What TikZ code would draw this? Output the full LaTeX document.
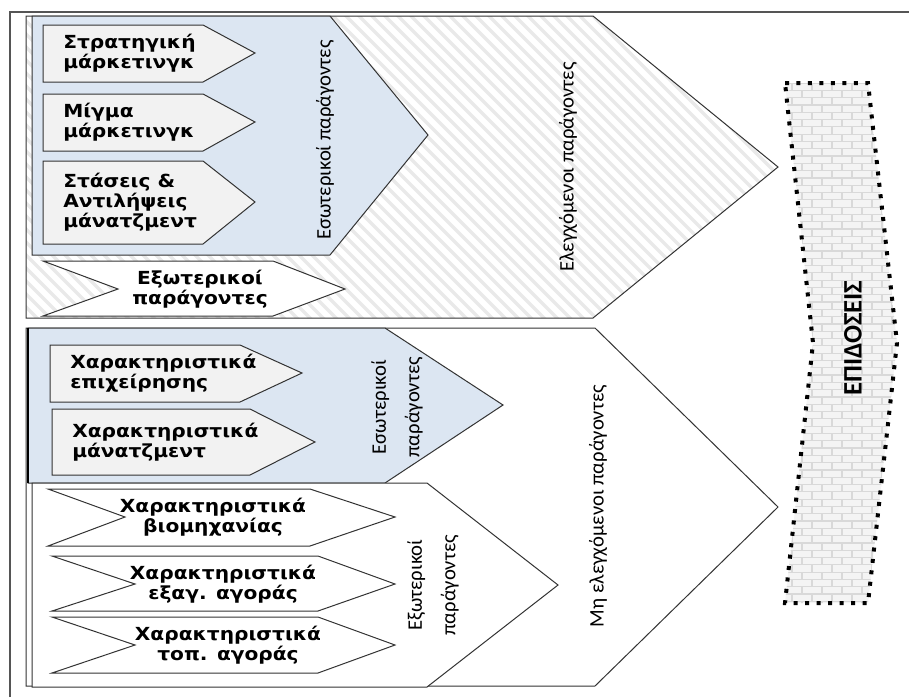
\documentclass[tikz,border=0pt]{standalone}
\usepackage{fontspec}
\setmainfont{DejaVu Sans}[FakeStretch=1.12]
\newfontfamily\calfont{Carlito}
\definecolor{linec}{HTML}{333333}
\definecolor{bluef}{HTML}{DCE6F2}
\definecolor{greyf}{HTML}{F2F2F2}
\definecolor{hatchc}{HTML}{E9E9E9}
\definecolor{brickf}{HTML}{F4F4F4}
\definecolor{mortar}{HTML}{D9D9D9}
\definecolor{framec}{HTML}{555555}
\begin{document}
\begin{tikzpicture}[x=0.75pt,y=-0.75pt,
  shp/.style={draw=linec, line width=0.75pt, line join=miter},
  boldlbl/.style={font=\bfseries\fontsize{13.5}{15}\selectfont, text=black, align=left, inner sep=0pt},
  boldctr/.style={boldlbl, align=center},
  rotlbl/.style={font=\calfont\fontsize{15.5}{25}\selectfont, text=black, rotate=90, align=center, inner sep=0pt},
  hatch/.style={draw=hatchc, line width=2.4pt},
  brick/.style={draw=mortar, line width=0.9pt},
  dotborder/.style={draw=black, line width=3pt, dash pattern=on 3pt off 5.6pt}
]
\useasboundingbox (0,0) rectangle (909,697);
\fill[white] (0,0) rectangle (909,697);

% outer frame
\draw[framec, line width=1.1pt] (10,697) -- (10,12) -- (909,12);

% ===== upper main chevron (controlled factors)
\fill[white] (26,16) -- (593,16) -- (778,167) -- (593,318) -- (26,318) -- cycle;
\begin{scope}
  \clip (26,16) -- (593,16) -- (778,167) -- (593,318) -- (26,318) -- cycle;
  \foreach \c in {-320,-307,...,800} \draw[hatch] (\c,0) -- ++(340,340);
\end{scope}
\draw[shp] (26,16) -- (593,16) -- (778,167) -- (593,318) -- (26,318) -- cycle;

% upper blue chevron
\draw[shp, fill=bluef] (32,16) -- (330,16) -- (428,135) -- (330,255) -- (32,255) -- cycle;
\draw[shp, fill=greyf] (43,25) -- (203,25) -- (255,53) -- (203,82) -- (43,82) -- cycle;
\draw[shp, fill=greyf] (43,94) -- (203,94) -- (255,122) -- (203,151) -- (43,151) -- cycle;
\draw[shp, fill=greyf] (43,161) -- (203,161) -- (255,202) -- (203,244) -- (43,244) -- cycle;
% upper external chevron
\draw[shp, fill=white] (43,261) -- (273,261) -- (345,289) -- (273,316) -- (43,316) -- (118,289) -- cycle;

\node[boldlbl, anchor=west] (t1) at (63,53) {Στρατηγική\\μάρκετινγκ};
\node[boldlbl, anchor=west] (t2) at (63,122) {Μίγμα\\μάρκετινγκ};
\node[boldlbl, anchor=west] (t3) at (63,202) {Στάσεις \&\\Αντιλήψεις\\μάνατζμεντ};
\node[boldctr] (t4) at (200,289) {Εξωτερικοί\\παράγοντες};
\node[rotlbl] (ub) at (325,140) {Εσωτερικοί παράγοντες};
\node[rotlbl] (um) at (568,167) {Ελεγχόμενοι παράγοντες};

% ===== lower main chevron (uncontrolled factors)
\draw[shp, fill=white] (26,328) -- (595,328) -- (778,507) -- (595,686) -- (26,686) -- cycle;
% lower blue chevron
\draw[shp, fill=bluef] (28,328) -- (385,328) -- (503,405) -- (385,483) -- (28,483) -- cycle;
\draw[black, line width=1.6pt] (28,328) -- (28,483);
\draw[shp, fill=greyf] (50,345) -- (240,345) -- (302,373) -- (240,402) -- (50,402) -- cycle;
\draw[shp, fill=greyf] (52,409) -- (250,409) -- (315,442) -- (250,475) -- (52,475) -- cycle;
% lower external chevron
\draw[shp, fill=white] (32,483) -- (427,483) -- (558,585) -- (427,687) -- (32,687) -- cycle;
\draw[shp, fill=white] (48,489) -- (310,489) -- (395,517) -- (310,546) -- (48,546) -- (125,517) -- cycle;
\draw[shp, fill=white] (52,556) -- (318,556) -- (395,584) -- (318,611) -- (52,611) -- (135,584) -- cycle;
\draw[shp, fill=white] (52,617) -- (318,617) -- (395,645) -- (318,673) -- (52,673) -- (135,645) -- cycle;

\node[boldlbl, anchor=west] (c1) at (70,373) {Χαρακτηριστικά\\επιχείρησης};
\node[boldlbl, anchor=west] (c2) at (72,442) {Χαρακτηριστικά\\μάνατζμεντ};
\node[boldctr] (e1) at (213,517) {Χαρακτηριστικά\\βιομηχανίας};
\node[boldctr] (e2) at (223,584) {Χαρακτηριστικά\\εξαγ. αγοράς};
\node[boldctr] (e3) at (228,645) {Χαρακτηριστικά\\τοπ. αγοράς};
\node[rotlbl] (lb) at (397,407) {Εσωτερικοί\\παράγοντες};
\node[rotlbl] (le) at (433,585) {Εξωτερικοί\\παράγοντες};
\node[rotlbl] (lm) at (598,506) {Μη ελεγχόμενοι παράγοντες};

% ===== performance band
\begin{scope}
  \clip (785,83) -- (868,83) -- (897,343) -- (868,603) -- (785,603) -- (813,343) -- cycle;
  \fill[brickf] (770,80) rectangle (905,610);
  \foreach \i in {0,...,72} {
    \pgfmathsetmacro{\yy}{83+\i*7.3}
    \pgfmathsetmacro{\yb}{\yy+7.3}
    \pgfmathsetmacro{\off}{mod(\i,2)*10}
    \draw[brick] (770,\yy) -- (905,\yy);
    \foreach \k in {0,...,7} {
      \pgfmathsetmacro{\xx}{772+\k*20+\off}
      \draw[brick] (\xx,\yy) -- (\xx,\yb);
    }
  }
\end{scope}
\draw[dotborder] (785,83) -- (868,83) -- (897,343) -- (868,603) -- (785,603) -- (813,343) -- cycle;
\node[font=\calfont\bfseries\fontsize{20}{24}\selectfont, rotate=90, inner sep=0pt] (ep) at (853,338) {ΕΠΙΔΟΣΕΙΣ};

\end{tikzpicture}
\end{document}
